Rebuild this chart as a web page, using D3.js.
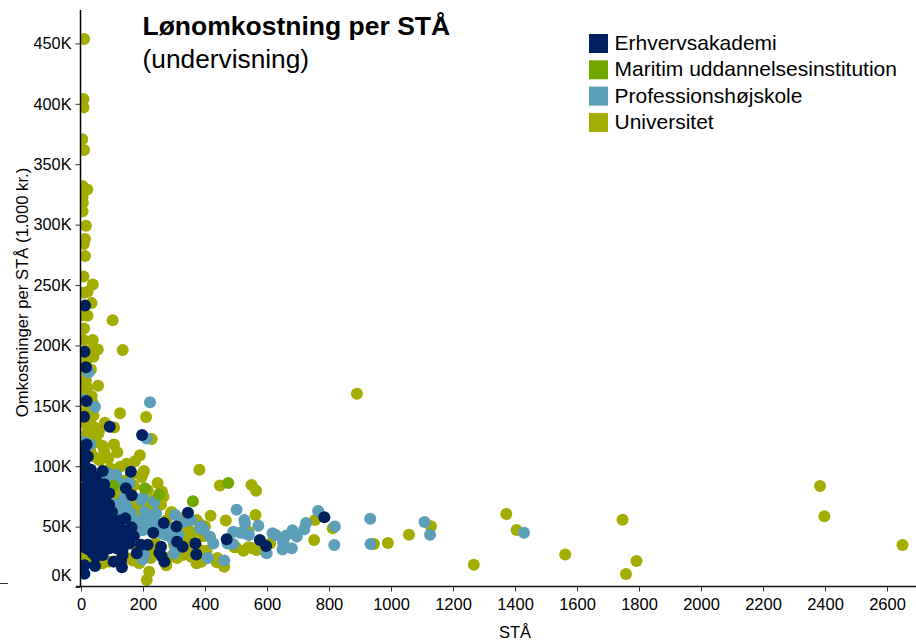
<!DOCTYPE html>
<html><head><meta charset="utf-8">
<script src="https://cdn.jsdelivr.net/npm/d3@7/dist/d3.min.js"></script>
<style>html,body{margin:0;background:#fff}svg{display:block}text{font-family:"Liberation Sans",Arial,sans-serif;fill:#000}</style>
</head><body><svg id="c" width="916" height="640"></svg>
<script>
const categories=["Erhvervsakademi","Maritim uddannelsesinstitution","Professionshøjskole","Universitet"];
const colors=["#00205f","#70a800","#5b9fb9","#a2ad00"];
const xTicks=d3.range(0,2601,200);
const yTicks=d3.range(0,451,50);
const universitet=[[10,453.6],[8,404],[8,397],[4,370.6],[10,361.7],[5,332],[20,329],[5,323],[6,318],[5,311],[16,299],[13,288],[9,284],[13,274],[8,257],[38,250.5],[21,244.5],[8,243.5],[34,235],[21,224.6],[5,225],[102,220.8],[10,214],[8,204.5],[38,204.5],[54,196.7],[134.5,196.2],[40,190.7],[25,196],[8,190],[5,183],[8,175.5],[55,166.6],[16,171],[8,164.7],[34.5,158],[16,160],[5,150],[30,148],[20,143],[126,143.8],[210,140.7],[40,142],[8,136],[30,135],[77,136],[107,132],[58,129.4],[228,122.5],[20,128],[45,124],[56,127],[50,120],[106.5,118],[117,111.5],[70,116.7],[30,113],[8,115],[88,106.5],[190,109],[174,104],[147,102],[126,99.6],[60,105],[203,96],[382,97],[196,91],[247,86],[448,84],[550,84.4],[565,79.7],[261,79],[266,74.8],[199,94],[160,92],[110,90],[145,72],[134,69],[177,64],[226,65],[258,68],[290,61],[292,62],[418,59],[467,55],[563,59.6],[373,55.5],[400,50],[524,30],[540,33],[567,30.6],[552,32],[495,33],[438,20.4],[462,16.8],[373,19.6],[389,21],[384,30.6],[405,30],[357,39],[220,12.7],[212,5.8],[344,33],[328,26.5],[290,25],[231,29],[167,22],[188,19.6],[91,21],[70,19.6],[38,22],[11,22],[5,30],[5,40],[5,55],[4,70],[5,85],[4,100],[360,45],[330,40],[300,35],[260,52],[270,44],[240,36],[210,30],[180,32],[150,75],[170,68],[120,74],[330,30],[355,25],[395,42],[320,57],[440,24],[385,52],[755,55.5],[752,39],[812,48.6],[945,35.6],[990,36.4],[1058,43.3],[1129,50.2],[1267,18.5],[1372,60.4],[1405,47.2],[1562,27],[1747,55.7],[1792,21.5],[1758,10.8],[2384,83.6],[2398,58.5],[2650,34.8],[890,160],[610,36],[500,33],[540,46],[15,186],[32,180],[20,165],[12,152],[38,152],[25,138],[44,132],[14,122],[40,108],[75,112],[95,98],[135,88],[170,84],[110,80],[215,80],[235,72],[205,70],[185,60],[275,55],[345,48],[310,24],[275,18],[225,24],[150,24],[120,22],[55,19]];
const professionshojskole=[[25,177.7],[45,149],[10,155],[222.6,153],[212,123],[10,120],[30,118],[502,64],[527,55.5],[529,52.7],[572,50.8],[491,45.8],[513,45],[527,44.5],[542,43],[384,48.6],[395,47.7],[416,41.7],[427,36],[409,24],[462,22],[473,36],[491,35.6],[599,28],[618,44.4],[628,43],[653,36],[661,42.5],[682,47],[696,41.7],[680,32],[650,31],[652,37.5],[765,63],[726,53],[720,47.8],[819,50],[817,34.8],[933,56.5],[934,35.6],[1108,53.8],[1126,43.3],[1429,45],[194,72],[200,74],[237,70.6],[304,59.6],[333,54],[355,55.5],[387,50],[242,61],[210,55.5],[188,54],[220,50],[199,47],[180,52],[253,47],[274,43],[296,39],[301,28],[305,31],[199,23],[204,26.5],[124,69],[107,68],[129,86],[156,86],[86,94],[113,93],[70,87],[124,62],[161,61],[146,67],[240,53],[230,58],[205,62],[170,55],[262,44],[285,47],[315,43],[150,48],[175,44],[130,58],[140,74],[100,92]];
const maritim=[[475,86],[361,71],[252,76.7],[206,81.7],[105,83.6]];
const erhvervsakademi=[[13,233],[11,194.8],[16,181.9],[18,154],[10,141],[92.5,132.7],[197,125.8],[18,118],[10,112],[8,105],[14,100],[20,97],[161,95.5],[70,96],[5,92],[25,90],[48,91],[75,85],[40,85],[12,82],[145,81.7],[91,77.5],[164,76],[30,78],[55,75],[6,74],[20,70],[45,68],[91,68],[70,66],[8,64],[30,62],[58,60],[80,58],[14,56],[42,54],[110,55],[143,57],[125,55],[95,52],[72,50],[163,49.4],[6,48],[28,47],[52,46],[118,44.4],[90,44],[233,45],[267,53],[308,50],[345,61.5],[145,39],[156,36],[14,40],[38,39],[66,38],[105,38],[125,37],[193,35],[215,35],[258,33.4],[253,28.4],[269,21],[260,25.7],[310,37.5],[328,33.4],[369,36],[372,27],[470,39.5],[577,39],[597,34],[785,57.7],[180,28],[134,26.5],[129,22],[132,16.3],[105,21],[134,30.6],[91,32],[70,26.5],[48,25],[25,31],[50,33],[10,33],[45,17.4],[11,18],[11,11],
[22,108],[15,92],[32,97],[44,76],[62,82],[20,84],[35,70],[58,68],[78,74],[12,72],[25,65],[50,60],[68,58],[100,62],[88,56],[18,52],[35,50],[60,52],[80,44],[105,46],[130,48],[22,42],[48,42],[72,34],[92,38],[115,32],[28,36],[58,30],[38,28],[150,46],[170,42],[40,58]];

const pointSets=[universitet,professionshojskole,maritim,erhvervsakademi];
const pointColors=[colors[3],colors[2],colors[1],colors[0]];
const svg=d3.select("#c");
const x=d3.scaleLinear().domain([0,2600]).range([81,887]);
const y=d3.scaleLinear().domain([0,450]).range([587,43.4]);

svg.append("clipPath").attr("id","plot").append("rect").attr("x",80.5).attr("y",0).attr("width",836).attr("height",587);
const plot=svg.append("g").attr("clip-path","url(#plot)");
pointSets.forEach((s,i)=>{
  plot.append("g").selectAll("circle").data(s).join("circle")
    .attr("cx",d=>x(d[0])).attr("cy",d=>y(d[1])).attr("r",6).attr("fill",pointColors[i]);
});

const yAxis=svg.append("g").attr("transform","translate(80.5,0)")
  .call(d3.axisLeft(y).tickValues(yTicks).tickFormat(d=>d+"K").tickSize(5).tickPadding(4));
yAxis.select(".domain").attr("d","M0,587V10").attr("stroke","#000").attr("stroke-width",1.5);
yAxis.selectAll(".tick line").attr("stroke","#333");
yAxis.selectAll("text").attr("font-size",16.3).attr("font-family",null);
yAxis.selectAll(".tick").filter(d=>d===0).select("text").attr("dy","-0.4em");

const xAxis=svg.append("g").attr("transform","translate(0,586.5)")
  .call(d3.axisBottom(x).tickValues(xTicks).tickSize(5).tickPadding(7).tickFormat(d3.format("d")));
xAxis.select(".domain").attr("d","M76,0H916").attr("stroke","#111").attr("stroke-width",1.5);
xAxis.selectAll(".tick line").attr("stroke","#333");
xAxis.selectAll("text").attr("font-size",16.5).attr("font-family",null);

svg.append("line").attr("x1",0).attr("x2",8).attr("y1",583.5).attr("y2",583.5).attr("stroke","#333");
svg.append("text").attr("x",515).attr("y",638).attr("text-anchor","middle").attr("font-size",16.5).text("STÅ");
svg.append("text").attr("transform","translate(28,292.5) rotate(-90)").attr("text-anchor","middle").attr("font-size",16.7).text("Omkostninger per STÅ (1.000 kr.)");
svg.append("text").attr("x",142.5).attr("y",35).attr("font-size",26.5).attr("font-weight","bold").text("Lønomkostning per STÅ");
svg.append("text").attr("x",142.5).attr("y",68).attr("font-size",26.3).text("(undervisning)");

const leg=svg.append("g").selectAll("g").data(categories).join("g")
  .attr("transform",(d,i)=>`translate(589,${34+i*26.3})`);
leg.append("rect").attr("width",19).attr("height",19).attr("fill",(d,i)=>colors[i]);
leg.append("text").attr("x",25.5).attr("y",16).attr("font-size",21).text(d=>d);
</script></body></html>
